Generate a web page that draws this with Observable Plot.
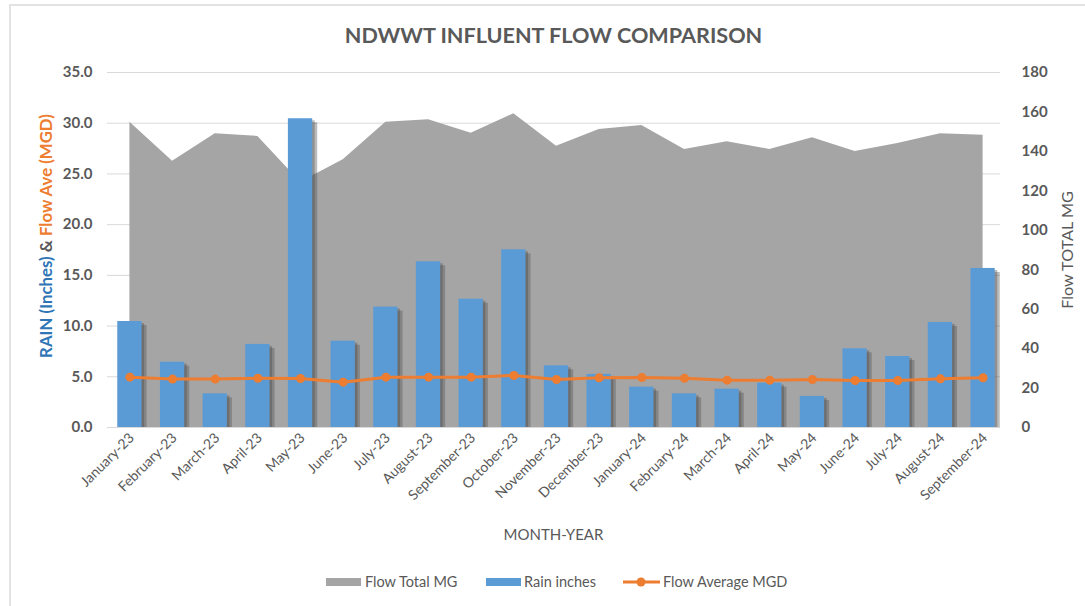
<!DOCTYPE html>
<html>
<head>
<meta charset="utf-8">
<script src="https://cdn.jsdelivr.net/npm/d3@7"></script>
<script src="https://cdn.jsdelivr.net/npm/@observablehq/plot@0.6"></script>
<style>
  body { margin: 0; background: #fff; font-family: Lato, "Open Sans", sans-serif; }
  #wrap { position: relative; width: 1085px; height: 606px; overflow: hidden; background: #fff; }
  #border { position: absolute; left: 9px; top: 4px; right: -5px; bottom: -10px; border-top: 2px solid #e2e2e2; border-left: 2px solid #e2e2e2; }
  #title { position: absolute; top: 22px; left: 107px; width: 893px; text-align: center; font-weight: bold; font-size: 21.6px; color: #595959; }
  #chart { position: absolute; top: 50px; left: 0; }
  #ylabL { position: absolute; left: 45px; top: 236px; transform: translate(-50%, -50%) rotate(-90deg); white-space: nowrap; font-weight: bold; font-size: 16.8px; color: #595959; }
  #ylabR { position: absolute; left: 1066px; top: 250px; transform: translate(-50%, -50%) rotate(-90deg); white-space: nowrap; font-size: 16.2px; color: #595959; }
  #xlab { position: absolute; top: 525px; left: 107px; width: 893px; text-align: center; font-size: 15px; color: #595959; }
  #legend { position: absolute; top: 573px; left: 0; width: 1085px; font-size: 14.5px; color: #595959; }
  .li { position: absolute; top: 0; height: 18px; line-height: 18px; white-space: nowrap; }
  .sw { position: absolute; top: 5px; width: 35px; height: 8px; }
</style>
</head>
<body>
<div id="wrap">
  <div id="border"></div>
  <div id="title">NDWWT INFLUENT FLOW COMPARISON</div>
  <div id="chart"></div>
  <div id="ylabL"><span style="color:#2e75b6">RAIN (Inches)</span> &amp; <span style="color:#ed7d31">Flow Ave (MGD)</span></div>
  <div id="ylabR">Flow TOTAL MG</div>
  <div id="xlab">MONTH-YEAR</div>
  <div id="legend"></div>
</div>
<script>
const months = ["January-23","February-23","March-23","April-23","May-23","June-23","July-23","August-23","September-23","October-23","November-23","December-23","January-24","February-24","March-24","April-24","May-24","June-24","July-24","August-24","September-24"];
const totalMG = [154.8,135.0,148.9,147.6,124.4,135.7,154.8,156.0,149.2,159.1,142.6,151.1,153.1,141.0,144.9,141.0,146.9,140.0,144.0,148.9,148.2];
const rainIn = [10.45,6.44,3.32,8.19,30.44,8.51,11.87,16.34,12.65,17.52,6.08,5.23,3.98,3.32,3.78,4.37,3.06,7.76,7.0,10.36,15.68];
const flowAvgMGD = [4.96,4.77,4.77,4.86,4.83,4.47,4.96,4.96,4.96,5.13,4.73,4.9,4.93,4.86,4.67,4.67,4.73,4.63,4.63,4.8,4.9];
const leftTicks = [0,5,10,15,20,25,30,35];
const rightTicks = [0,20,40,60,80,100,120,140,160,180];
const legendItems = ["Flow Total MG","Rain inches","Flow Average MGD"];

const GRAY = "#a5a5a5", BLUE = "#5b9bd5", ORANGE = "#ed7d31", TXT = "#595959";
const k = 35 / 180; // right axis (MG) mapped onto left axis scale

const data = months.map((m, i) => ({month: m, total: totalMG[i], rain: rainIn[i], avg: flowAvgMGD[i]}));

const chart = Plot.plot({
  width: 1085,
  height: 510,
  marginTop: 22,
  marginBottom: 133,
  marginLeft: 110,
  marginRight: 83,
  style: {fontFamily: "Lato, 'Open Sans', sans-serif", color: TXT, background: "transparent"},
  x: {domain: months, paddingInner: 0.43, paddingOuter: 0.17, round: false, label: null},
  y: {domain: [0, 35], label: null},
  marks: [
    Plot.gridY(leftTicks, {stroke: "#d9d9d9", strokeOpacity: 1, insetLeft: -3, insetRight: 2}),
    Plot.areaY(data, {x: "month", y: d => d.total * k, fill: GRAY, fillOpacity: 1}),
    Plot.barY(data, {x: "month", y: "rain", fill: "#555", fillOpacity: 0.4, dx: 5, insetTop: 4}),
    Plot.barY(data, {x: "month", y: "rain", fill: "#444", fillOpacity: 0.35, dx: 2.5, insetTop: 2}),
    Plot.barY(data, {x: "month", y: "rain", fill: BLUE}),
    Plot.ruleY([0], {stroke: "#d9d9d9", insetLeft: -3, insetRight: 2}),
    Plot.lineY(data, {x: "month", y: "avg", stroke: ORANGE, strokeWidth: 3}),
    Plot.dot(data, {x: "month", y: "avg", fill: ORANGE, r: 4.5}),
    Plot.axisY(leftTicks, {anchor: "left", tickSize: 0, tickPadding: 18, tickFormat: d => d.toFixed(1), fontWeight: "bold", fontSize: 15, fill: TXT, label: null}),
    Plot.axisY(rightTicks.map(v => v * k), {anchor: "right", tickSize: 0, tickPadding: 19, tickFormat: v => String(Math.round(v / k)), fontWeight: "bold", fontSize: 15, fill: TXT, label: null}),
    Plot.axisX({tickSize: 0, tickRotate: -45, tickPadding: 8, dx: 2, fontSize: 14, fill: TXT, label: null})
  ]
});
document.getElementById("chart").appendChild(chart);

// legend
const leg = document.getElementById("legend");
const pos = [{sw: 326, tx: 365}, {sw: 486, tx: 524}, {sw: 623, tx: 663}];
const swColors = [GRAY, BLUE, ORANGE];
legendItems.forEach((name, i) => {
  const s = document.createElement("div");
  s.className = "li";
  s.style.left = pos[i].sw + "px";
  if (i < 2) {
    s.innerHTML = `<div class="sw" style="left:0;background:${swColors[i]}"></div>`;
  } else {
    s.innerHTML = `<svg width="38" height="18" style="position:absolute;left:0;top:0"><line x1="0" x2="37" y1="9" y2="9" stroke="${ORANGE}" stroke-width="3"/><circle cx="18" cy="9" r="4.5" fill="${ORANGE}"/></svg>`;
  }
  leg.appendChild(s);
  const t = document.createElement("div");
  t.className = "li";
  t.style.left = pos[i].tx + "px";
  t.textContent = name;
  leg.appendChild(t);
});
</script>
</body>
</html>
